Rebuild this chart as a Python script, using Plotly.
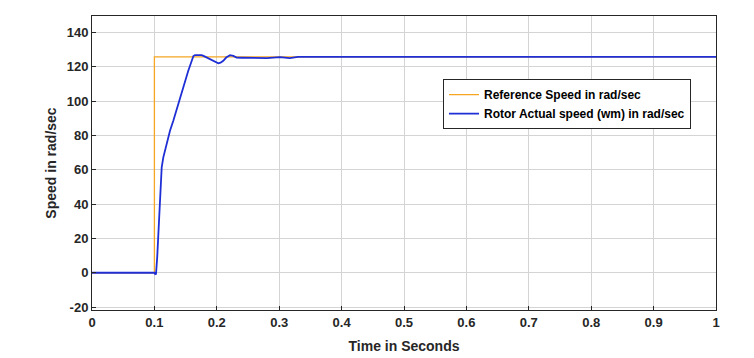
""" Motor speed response: reference vs rotor actual speed """

import plotly.graph_objects as go

# reference step
ref_time = [0.0, 0.1, 0.1, 1.0]
ref_speed = [0.0, 0.0, 125.66, 125.66]

# rotor actual speed (wm)
rotor_time = [0.0, 0.1, 0.1013, 0.1026, 0.1045, 0.1063, 0.109, 0.1117, 0.1143, 0.117,
              0.1197, 0.125, 0.1303, 0.1383, 0.1463, 0.1543, 0.1585, 0.1607, 0.1625,
              0.165, 0.17, 0.1758, 0.1795, 0.1838, 0.189, 0.1944, 0.2, 0.2024, 0.206,
              0.2104, 0.215, 0.2212, 0.2265, 0.2318, 0.24, 0.2585, 0.2799, 0.3013,
              0.308, 0.317, 0.33, 1.0]
rotor_speed = [0.0, 0.0, -0.8, -0.6, 9.0, 20.7, 40.1, 61.4, 67.2, 71.5,
               75.0, 82.7, 88.5, 98.3, 108.9, 117.6, 122.0, 125.0, 126.2,
               126.7, 126.9, 126.7, 126.1, 125.3, 124.1, 123.0, 122.1, 121.9, 122.3,
               123.4, 125.3, 126.7, 126.3, 125.3, 125.2, 125.0, 125.0, 125.5,
               125.2, 125.0, 125.66, 125.66]

x_ticks = [0, 0.1, 0.2, 0.3, 0.4, 0.5, 0.6, 0.7, 0.8, 0.9, 1]
y_ticks = [-20, 0, 20, 40, 60, 80, 100, 120, 140]

FONT = "Liberation Sans, Arial"
INK = "#262626"


def main():
    fig = go.Figure()
    fig.add_trace(go.Scatter(x=ref_time, y=ref_speed, mode="lines",
                             name="Reference Speed in rad/sec",
                             line=dict(color="#f5a623", width=1.3)))
    fig.add_trace(go.Scatter(x=rotor_time, y=rotor_speed, mode="lines",
                             name="Rotor Actual speed (wm) in rad/sec",
                             line=dict(color="#1f2fd6", width=1.8)))

    axis_common = dict(showgrid=True, gridcolor="#d4d4d4", gridwidth=1,
                       showline=True, linecolor=INK, linewidth=1, mirror=True,
                       ticks="inside", ticklen=4, tickcolor=INK, zeroline=False,
                       automargin=False,
                       tickfont=dict(family=FONT, size=13, color=INK, weight="bold"))

    fig.update_xaxes(range=[0, 1], tickvals=x_ticks, ticktext=[str(v) for v in x_ticks],
                     title=dict(text="Time in Seconds", standoff=12,
                                font=dict(family=FONT, size=14, color=INK, weight="bold")),
                     **axis_common)
    fig.update_yaxes(range=[-21.7, 149.5], tickvals=y_ticks, ticktext=[str(v) for v in y_ticks],
                     title=dict(text="Speed in rad/sec", standoff=6,
                                font=dict(family=FONT, size=14, color=INK, weight="bold")),
                     **axis_common)

    # the page body adds an 8px offset, so the figure is 8px smaller than the window
    fig.update_layout(
        width=746, height=350,
        margin=dict(l=84, r=38, t=8, b=48),
        plot_bgcolor="white", paper_bgcolor="white",
        font=dict(family=FONT, size=12, color=INK),
        legend=dict(x=0.5625, y=0.785, xanchor="left", yanchor="top",
                    bgcolor="white", bordercolor=INK, borderwidth=1,
                    font=dict(size=12, family=FONT, color="black", weight="bold"),
                    tracegroupgap=0, itemwidth=30),
        showlegend=True,
    )

    fig.write_html("out.html")


if __name__ == "__main__":
    main()
